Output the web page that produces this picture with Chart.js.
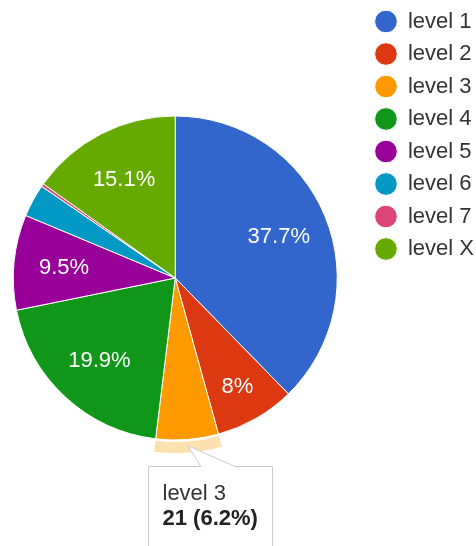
<!DOCTYPE html>
<html>
<head>
<meta charset="utf-8">
<script src="https://cdn.jsdelivr.net/npm/chart.js@4.4.0/dist/chart.umd.min.js"></script>
<style>
  html, body { margin: 0; padding: 0; background: #fff; overflow: hidden; }
  #wrap { position: relative; left: -14px; width: 490px; height: 556px; }
</style>
</head>
<body>
<div id="wrap"><canvas id="levelsChart"></canvas></div>
<script>
const levels = ['level 1', 'level 2', 'level 3', 'level 4', 'level 5', 'level 6', 'level 7', 'level X'];
const counts = [127, 27, 21, 67, 32, 11, 1, 51];
const colors = ['#3366cc', '#dc3912', '#ff9900', '#109618', '#990099', '#0099c6', '#dd4477', '#66aa00'];
const tooltipIndex = 2;

const total = counts.reduce((a, b) => a + b, 0);
const pct = v => {
    const p = Math.round(v / total * 1000) / 10;
    return (p % 1 === 0 ? p.toFixed(0) : p.toFixed(1)) + '%';
};

// percent labels inside the slices, highlight ring and the fixed tooltip
const googleLook = {
    id: 'googleLook',
    afterDatasetsDraw(chart) {
        const ctx = chart.ctx;
        const arcs = chart.getDatasetMeta(0).data;
        ctx.save();
        ctx.font = '22px "Liberation Sans", Arial, sans-serif';
        ctx.fillStyle = '#fff';
        ctx.textAlign = 'center';
        ctx.textBaseline = 'middle';
        arcs.forEach((arc, i) => {
            const share = counts[i] / total;
            if (share < 0.07) return;
            const mid = (arc.startAngle + arc.endAngle) / 2;
            const r = arc.outerRadius * (share < 0.09 ? 0.77 : 0.69);
            ctx.fillText(pct(counts[i]), arc.x + Math.cos(mid) * r, arc.y + Math.sin(mid) * r + 1);
        });

        const a = arcs[tooltipIndex];
        ctx.beginPath();
        ctx.arc(a.x, a.y, a.outerRadius + 13, a.startAngle, a.endAngle);
        ctx.arc(a.x, a.y, a.outerRadius + 2, a.endAngle, a.startAngle, true);
        ctx.closePath();
        ctx.fillStyle = '#ffe0b0';
        ctx.fill();

        const mid = (a.startAngle + a.endAngle) / 2;
        const tx = a.x + Math.cos(mid) * (a.outerRadius + 6);
        const ty = a.y + Math.sin(mid) * (a.outerRadius + 6);
        const bx = Math.round(tx - 40) + 0.5, by = Math.round(ty + 20) + 0.5;
        const bw = 124, bh = 90;
        ctx.beginPath();
        ctx.moveTo(bx, by);
        ctx.lineTo(tx + 13, by);
        ctx.lineTo(tx, ty);
        ctx.lineTo(tx + 47, by);
        ctx.lineTo(bx + bw, by);
        ctx.lineTo(bx + bw, by + bh);
        ctx.lineTo(bx, by + bh);
        ctx.closePath();
        ctx.fillStyle = '#fff';
        ctx.fill();
        ctx.strokeStyle = '#cccccc';
        ctx.lineWidth = 1;
        ctx.stroke();

        ctx.textAlign = 'left';
        ctx.textBaseline = 'alphabetic';
        ctx.fillStyle = '#333';
        ctx.font = '22px "Liberation Sans", Arial, sans-serif';
        ctx.fillText(levels[tooltipIndex], bx + 14, by + 33);
        ctx.fillStyle = '#222';
        ctx.font = 'bold 22px "Liberation Sans", Arial, sans-serif';
        ctx.fillText(counts[tooltipIndex] + ' (' + pct(counts[tooltipIndex]) + ')', bx + 14, by + 58);
        ctx.restore();
    }
};

new Chart(document.getElementById('levelsChart'), {
    type: 'pie',
    data: {
        labels: levels,
        datasets: [{
            data: counts,
            backgroundColor: colors,
            borderColor: '#fff',
            borderWidth: 1
        }]
    },
    options: {
        responsive: true,
        maintainAspectRatio: false,
        animation: false,
        radius: 162,
        layout: { padding: { top: 0, bottom: 0, left: 0, right: -8 } },
        events: [],
        plugins: {
            tooltip: { enabled: false },
            legend: {
                position: 'right',
                align: 'start',
                labels: {
                    usePointStyle: true,
                    pointStyle: 'circle',
                    boxWidth: 22,
                    boxHeight: 16,
                    padding: 10.5,
                    color: '#333',
                    font: { size: 22, family: '"Liberation Sans", Arial, sans-serif' }
                }
            }
        }
    },
    plugins: [googleLook]
});
</script>
</body>
</html>
